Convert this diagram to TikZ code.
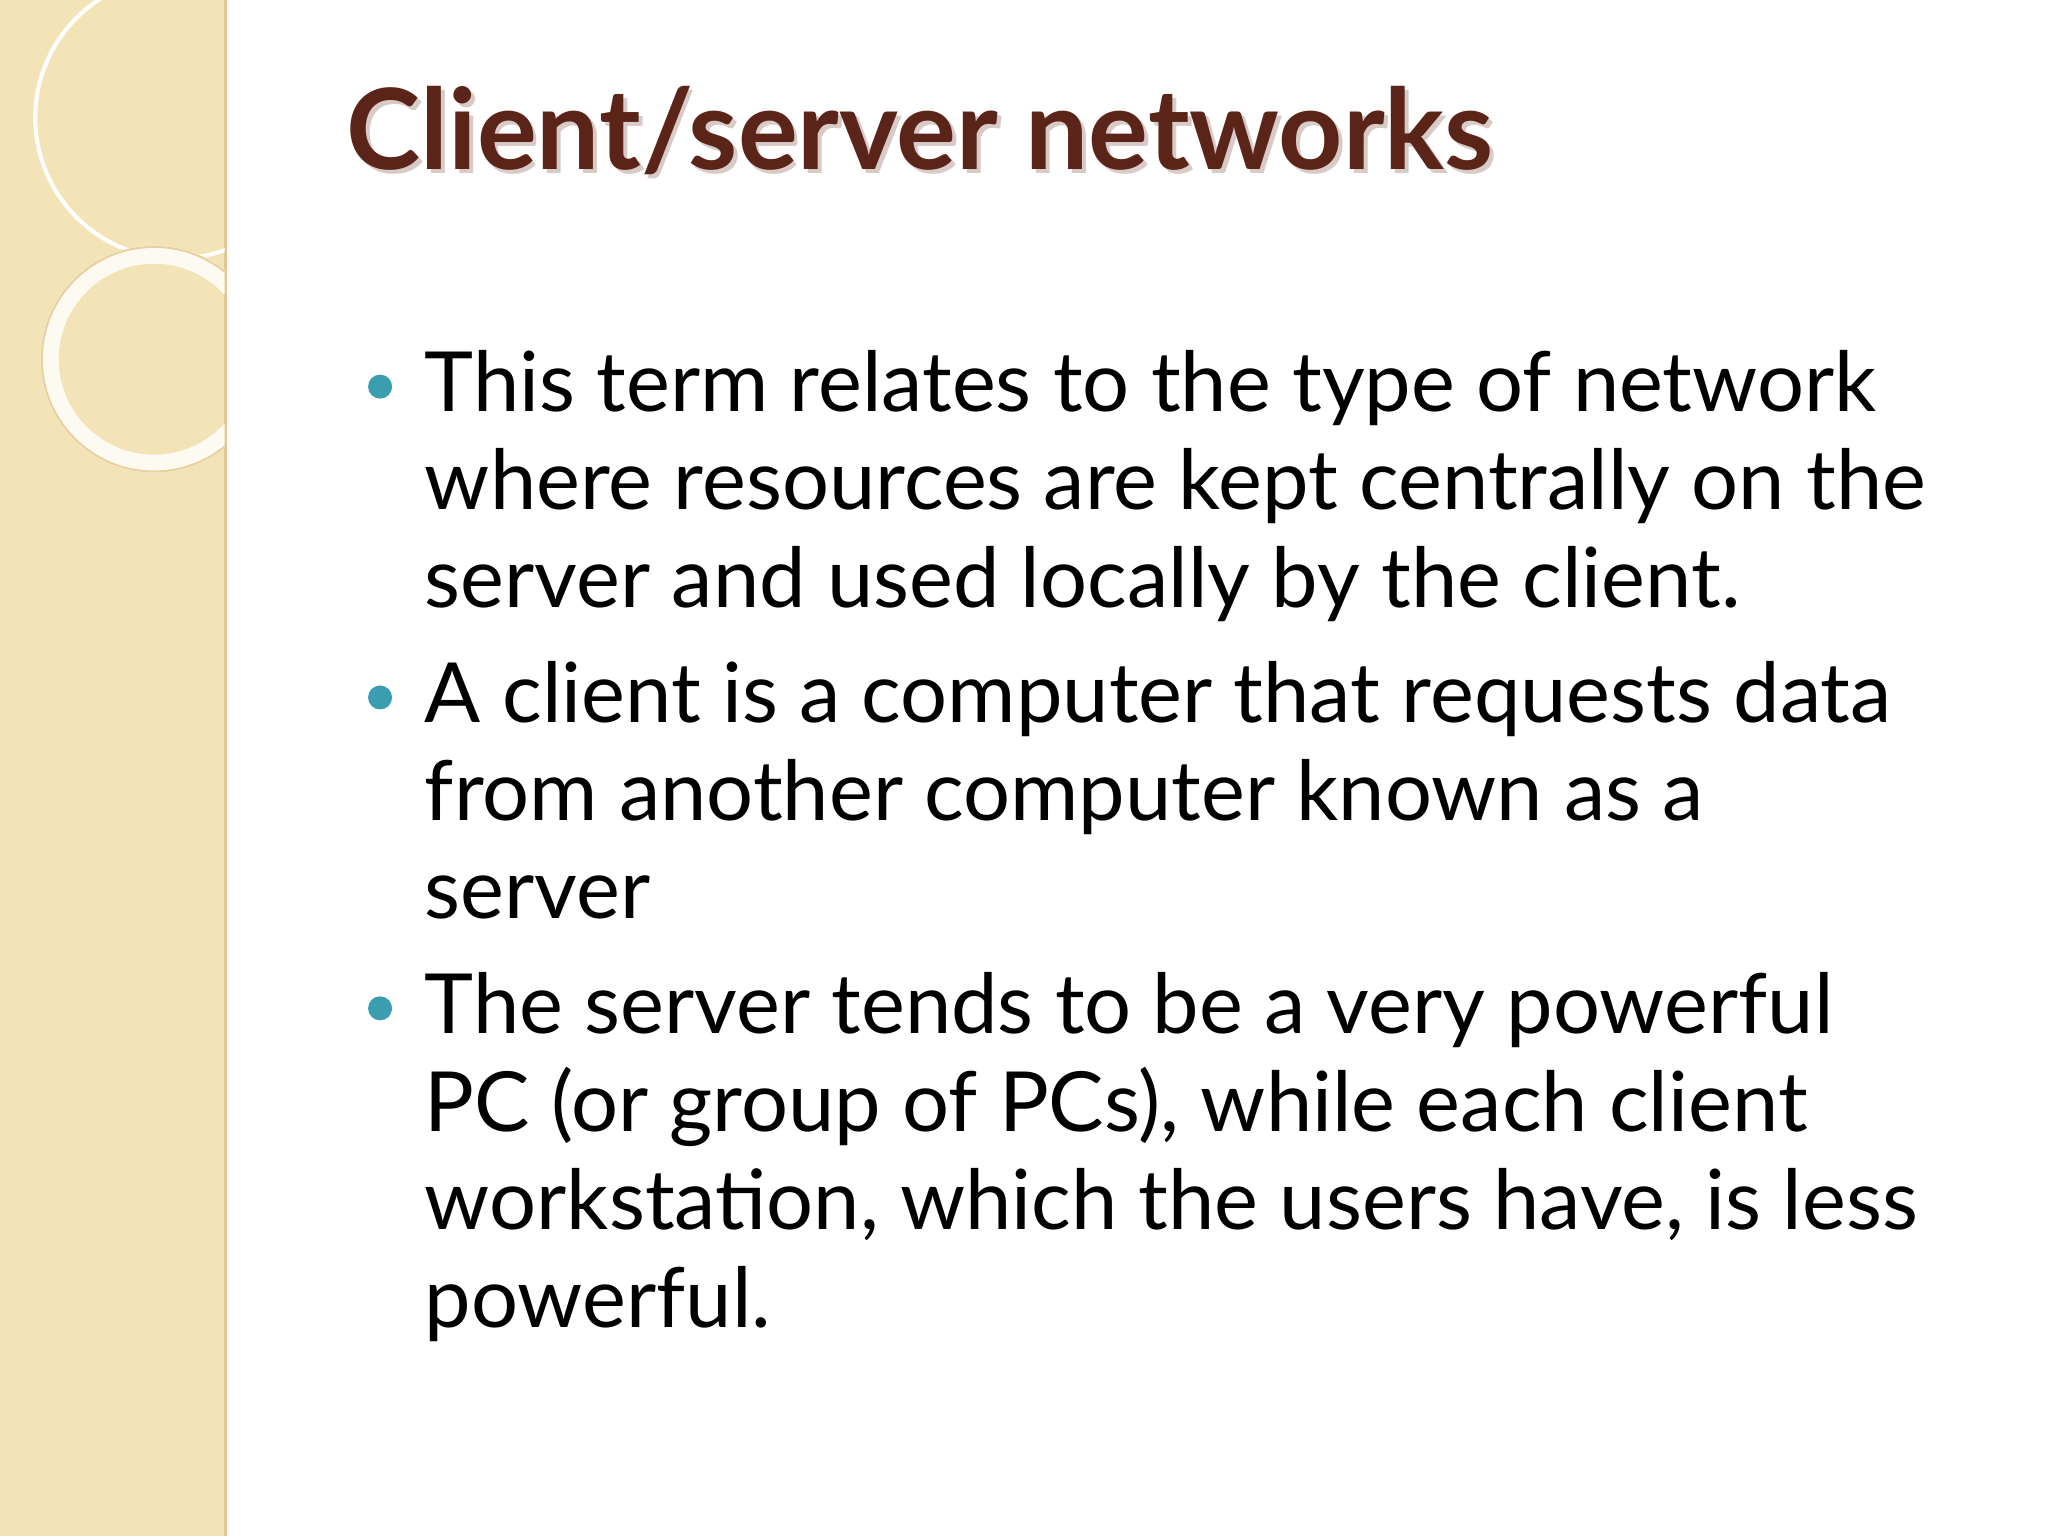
\documentclass[tikz,border=0pt]{standalone}
\usepackage{fontspec}
\setmainfont{Lato}
\definecolor{strip}{HTML}{F3E4B8}
\definecolor{titlec}{HTML}{5A2418}
\definecolor{bul}{HTML}{3A9DB0}
\begin{document}
\begin{tikzpicture}[x=0.653pt,y=-0.653pt,
  body/.style={anchor=north west,inner sep=0pt,font=\fontsize{41.5}{49}\selectfont,align=left},
  dot/.style={circle,fill=bul,inner sep=0pt,minimum size=12pt}]
\useasboundingbox (0,0) rectangle (1568,1176);
\fill[white] (0,0) rectangle (1568,1176);
\fill[strip] (0,0) rectangle (172,1176);
\draw[strip!70!brown,line width=1.5pt] (173,0) -- (173,1176);
\begin{scope}
\clip (0,0) rectangle (172,1176);
\draw[white,line width=2pt] (135,90) circle (108);
\draw[white!80!strip,line width=9pt] (118,275) circle (80);
\draw[strip!80!brown,line width=1pt] (118,275) circle (86);
\end{scope}
\node[anchor=west,inner sep=0pt,text=titlec!40!white,opacity=0.6] at (268,103) {\fontsize{56}{62}\selectfont\bfseries Client/server networks};
\node[anchor=west,inner sep=0pt,text=titlec] (title) at (265,100) {\fontsize{56}{62}\selectfont\bfseries Client/server networks};
\node[dot] (d1) at (291,296) {};
\node[dot] (d2) at (291,534) {};
\node[dot] (d3) at (291,772) {};
\node[body] (t1) at (325,268) {This term relates to the type of network\\where resources are kept centrally on the\\server and used locally by the client.};
\node[body] (t2) at (325,506) {A client is a computer that requests data\\from another computer known as a\\server};
\node[body] (t3) at (325,744) {The server tends to be a very powerful\\PC (or group of PCs), while each client\\workstation, which the users have, is less\\powerful.};
\end{tikzpicture}
\end{document}
